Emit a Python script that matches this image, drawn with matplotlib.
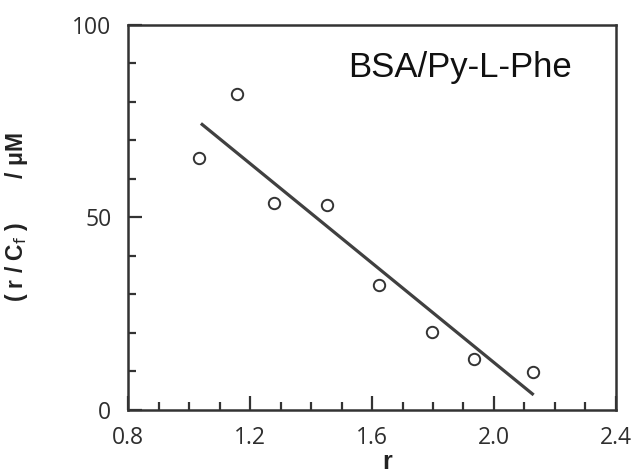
import matplotlib.pyplot as plt
from matplotlib.ticker import MultipleLocator

# data
r_vals = [1.033, 1.156, 1.279, 1.454, 1.622, 1.798, 1.934, 2.128]
rc_vals = [65.5, 82.0, 53.8, 53.3, 32.4, 20.2, 13.1, 9.8]

# fitted line end points
fit_r = [1.039, 2.130]
fit_rc = [74.4, 3.8]

dark = '#333333'

fig = plt.figure(figsize=(6.31, 4.73), dpi=100)
ax = fig.add_axes([0.2029, 0.1342, 0.7733, 0.8129])

ax.plot(fit_r, fit_rc, color='#404040', linewidth=2.3, solid_capstyle='butt')
ax.plot(r_vals, rc_vals, linestyle='none', marker='o', markersize=8.2,
        markerfacecolor='white', markeredgecolor=dark, markeredgewidth=1.4)

ax.set_xlim(0.8, 2.4)
ax.set_ylim(0, 100)
ax.xaxis.set_major_locator(MultipleLocator(0.4))
ax.xaxis.set_minor_locator(MultipleLocator(0.1))
ax.yaxis.set_major_locator(MultipleLocator(50))
ax.yaxis.set_minor_locator(MultipleLocator(10))
ax.xaxis.set_major_formatter(plt.FuncFormatter(lambda v, p: f'{v:.1f}'))

for s in ax.spines.values():
    s.set_linewidth(1.8)
    s.set_color(dark)

ax.tick_params(which='both', direction='in', top=False, right=False,
               color=dark, width=1.6, labelsize=16.5, labelcolor='#2e2e2e', pad=12)
ax.tick_params(which='major', length=10)
ax.tick_params(which='minor', length=5.5)
for lab in ax.get_xticklabels() + ax.get_yticklabels():
    lab.set_family('Open Sans')

ax.set_xlabel('r', fontsize=18, fontweight='bold', color='#222222', family='Liberation Sans')
ax.xaxis.set_label_coords(0.531, -0.105)
ax.set_ylabel(r'( r / C$_\mathrm{f}$ )       / μM', fontsize=16.5, fontweight='bold',
              color='#222222', family='Liberation Sans')
ax.yaxis.set_label_coords(-0.2, 0.5)

ax.text(0.68, 0.89, 'BSA/Py-L-Phe', transform=ax.transAxes, ha='center', va='center',
        fontsize=25, family='Liberation Sans', color='#111111')

plt.savefig('out.png', dpi=100)
